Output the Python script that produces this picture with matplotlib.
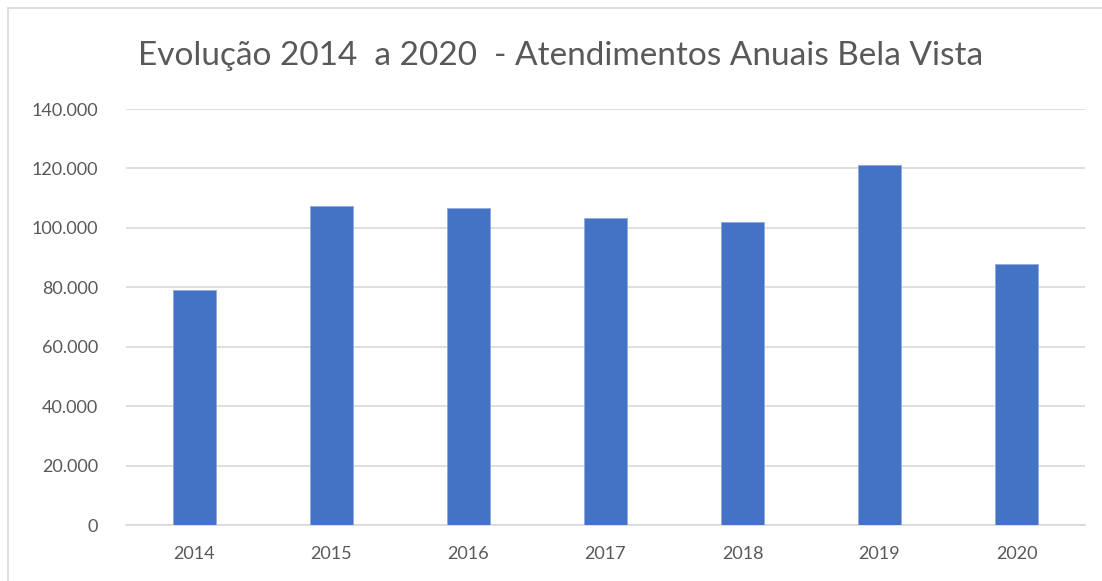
import matplotlib
matplotlib.use("Agg")
import matplotlib.pyplot as plt
from matplotlib.ticker import FuncFormatter, MultipleLocator
from matplotlib.patches import Rectangle

years = ["2014", "2015", "2016", "2017", "2018", "2019", "2020"]
atendimentos = [79100, 107300, 106800, 103200, 102000, 121100, 87700]
title = "Evolução 2014  a 2020  - Atendimentos Anuais Bela Vista"

plt.rcParams['font.family'] = ['Lato', 'DejaVu Sans']

fig = plt.figure(figsize=(11.02, 5.81), dpi=100)
ax = fig.add_axes([126/1102, 1-525/581, (1085-126)/1102, (525-109)/581])

x = range(len(years))
ax.bar(x, atendimentos, width=0.32, color="#4472C4", edgecolor="#8FAADC", linewidth=0.6, zorder=3)

ax.set_xlim(-0.5, len(years) - 0.5)
ax.set_ylim(0, 140000)
ax.yaxis.set_major_locator(MultipleLocator(20000))
ax.yaxis.set_major_formatter(FuncFormatter(lambda v, p: f"{int(v):,}".replace(",", ".")))
ax.set_xticks(list(x))
ax.set_xticklabels(years)

ax.grid(axis="y", color="#D9D9D9", linewidth=1.2, zorder=0)
for s in ["top", "right", "left"]:
    ax.spines[s].set_visible(False)
ax.spines["bottom"].set_color("#D9D9D9")
ax.spines["bottom"].set_linewidth(1.2)
ax.tick_params(axis="both", length=0, labelsize=13, labelcolor="#595959")
ax.tick_params(axis="y", pad=20)
ax.tick_params(axis="x", pad=15)

fig.text(561/1102, 1-56/581, title, ha="center", va="center", fontsize=24, color="#595959")

fig.patches.append(Rectangle((8/1102, -0.1), 1.2, 1 - 8/581 + 0.1, transform=fig.transFigure,
                             fill=False, edgecolor="#D9D9D9", linewidth=1.2))

fig.savefig("out.png", dpi=100)
